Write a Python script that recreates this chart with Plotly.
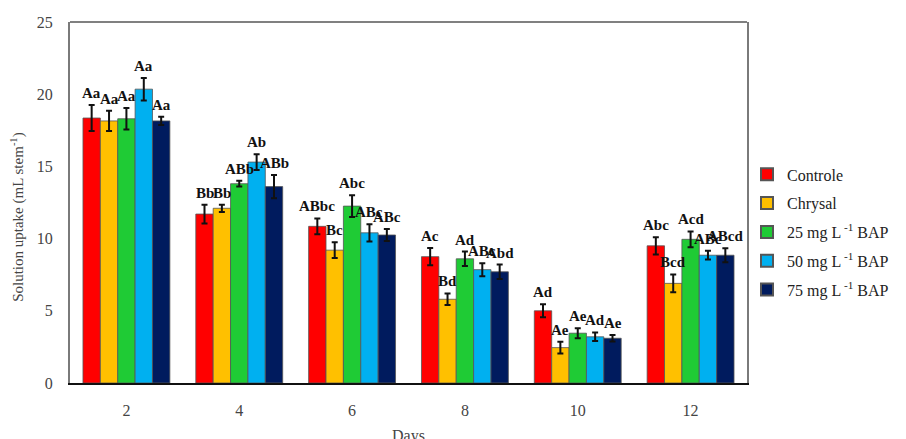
import plotly.graph_objects as go

# Sampling days (x categories)
days = ["2", "4", "6", "8", "10", "12"]

# Treatments
treatments = [
    "Controle",
    "Chrysal",
    "25 mg L<sup> -1</sup> BAP",
    "50 mg L<sup> -1</sup> BAP",
    "75 mg L<sup> -1</sup> BAP",
]
colors = ["#FF0000", "#FFC000", "#1FCB35", "#00B0F0", "#001B5E"]

# Mean solution uptake (mL stem-1) per treatment, one value per day
controle = [18.35, 11.7, 10.85, 8.75, 5.0, 9.5]
chrysal = [18.15, 12.1, 9.2, 5.8, 2.45, 6.9]
bap25 = [18.3, 13.8, 12.25, 8.6, 3.45, 9.95]
bap50 = [20.35, 15.3, 10.4, 7.85, 3.2, 8.85]
bap75 = [18.15, 13.6, 10.25, 7.7, 3.1, 8.85]

# Standard errors
err_controle = [0.9, 0.65, 0.55, 0.6, 0.45, 0.6]
err_chrysal = [0.7, 0.25, 0.55, 0.4, 0.4, 0.62]
err_bap25 = [0.75, 0.2, 0.75, 0.5, 0.35, 0.55]
err_bap50 = [0.78, 0.55, 0.6, 0.45, 0.3, 0.3]
err_bap75 = [0.28, 0.8, 0.42, 0.5, 0.22, 0.48]

# Significance letters
lbl_controle = ["Aa", "Bb", "ABbc", "Ac", "Ad", "Abc"]
lbl_chrysal = ["Aa", "Bb", "Bc", "Bd", "Ae", "Bcd"]
lbl_bap25 = ["Aa", "ABb", "Abc", "Ad", "Ae", "Acd"]
lbl_bap50 = ["Aa", "Ab", "ABc", "ABc", "Ad", "ABc"]
lbl_bap75 = ["Aa", "ABb", "ABc", "Abd", "Ae", "ABcd"]

values = [controle, chrysal, bap25, bap50, bap75]
errors = [err_controle, err_chrysal, err_bap25, err_bap50, err_bap75]
letters = [lbl_controle, lbl_chrysal, lbl_bap25, lbl_bap50, lbl_bap75]

serif = "Liberation Serif, Times New Roman, serif"
bargap = 0.23
n = len(treatments)
slot = (1 - bargap) / n

fig = go.Figure()
for i, name in enumerate(treatments):
    fig.add_trace(go.Bar(
        x=days,
        y=values[i],
        name=name,
        legendgroup=str(i),
        marker=dict(color=colors[i], line=dict(color="#555555", width=0.8)),
        error_y=dict(type="data", array=errors[i], visible=True,
                     color="#111111", thickness=2, width=3),
    ))

# Letters above each error bar
annotations = []
for i in range(n):
    for j in range(len(days)):
        annotations.append(dict(
            x=j + (i - (n - 1) / 2) * slot,
            y=values[i][j] + errors[i][j],
            xref="x", yref="y",
            text=letters[i][j],
            showarrow=False,
            yanchor="bottom",
            yshift=2,
            font=dict(family=serif, size=15, color="#111111", weight="bold"),
        ))

annotations.append(dict(
    x=-0.077, y=0.46, xref="paper", yref="paper",
    xanchor="center", yanchor="middle",
    text="Solution uptake (mL stem<sup>-1</sup>)",
    textangle=-90, showarrow=False,
    font=dict(family=serif, size=15, color="#444444"),
))
annotations.append(dict(
    x=0.5, y=-0.115, xref="paper", yref="paper",
    text="Days", showarrow=False, yanchor="top",
    font=dict(family=serif, size=16, color="#444444"),
))

fig.update_layout(
    width=906, height=439,
    margin=dict(l=70, r=159, t=22, b=56),
    paper_bgcolor="white", plot_bgcolor="white",
    barmode="group", bargap=bargap, bargroupgap=0,
    showlegend=True,
    legend=dict(
        x=1.0, y=0.625, xanchor="left", yanchor="top",
        bgcolor="rgba(0,0,0,0)",
        font=dict(family=serif, size=16, color="#222222"),
        traceorder="grouped", tracegroupgap=5,
        itemsizing="constant",
    ),
    annotations=annotations,
    shapes=[dict(type="line", xref="paper", yref="paper",
                 x0=0, x1=1, y0=1, y1=1,
                 line=dict(color="#808080", width=2))],
)

fig.update_xaxes(
    type="category", range=[-0.5, 5.5],
    showline=True, linecolor="#111111", linewidth=2,
    ticks="", ticklabelstandoff=12,
    tickfont=dict(family=serif, size=16, color="#444444"),
    showgrid=False, zeroline=False,
)
fig.update_yaxes(
    range=[0, 25], dtick=5,
    showline=True, linecolor="#7a7a7a", linewidth=2, mirror=True,
    ticks="", ticklabelstandoff=12,
    tickfont=dict(family=serif, size=16, color="#444444"),
    showgrid=False, zeroline=False,
)

fig.write_html("out.html")
